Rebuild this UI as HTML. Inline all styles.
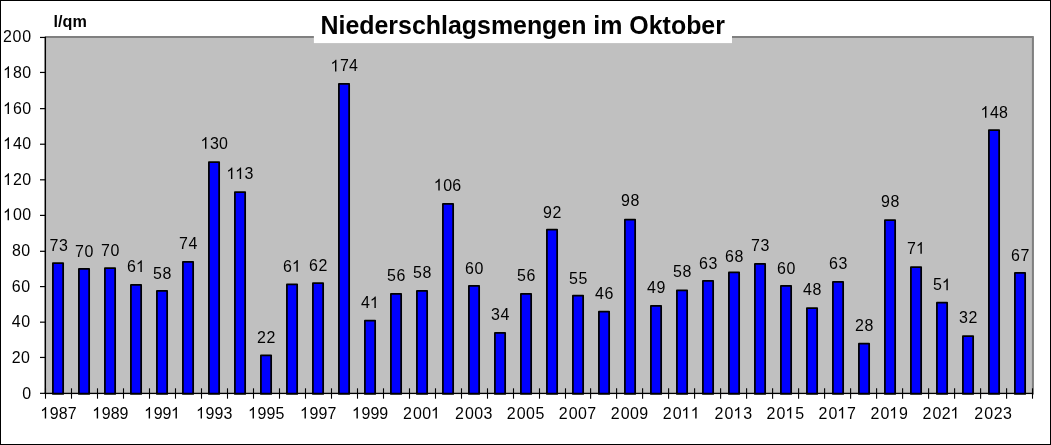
<!DOCTYPE html>
<html><head><meta charset="utf-8"><title>Niederschlagsmengen im Oktober</title>
<style>html,body{margin:0;padding:0;background:#fff;}body{width:1051px;height:445px;overflow:hidden;}svg{display:block;font-family:"Liberation Sans",sans-serif;font-size:17px;fill:#000;}</style></head><body>
<svg width="1051" height="445" viewBox="0 0 1051 445">
<defs><path id="one" d="M763 0H583V1147Q518 1085 412.5 1023T223 930V1104Q374 1175 487 1276T647 1472H763Z"/></defs>
<rect x="0" y="0" width="1051" height="445" fill="#ffffff"/>
<rect x="45.3" y="36" width="988.6" height="358.3" fill="#c0c0c0"/>
<path d="M45.3 37H1032.9V394.4" fill="none" stroke="#808080" stroke-width="2" stroke-linejoin="round"/>
<rect x="313.9" y="6" width="418.1" height="37.1" fill="#ffffff"/>
<g fill="#0000ff" stroke="#000" stroke-width="1.75" stroke-linejoin="round">
<rect x="52.90" y="263.03" width="10.25" height="130.87"/>
<rect x="78.90" y="268.90" width="10.25" height="125.00"/>
<rect x="104.90" y="268.19" width="10.25" height="125.71"/>
<rect x="130.90" y="284.92" width="10.25" height="108.98"/>
<rect x="156.90" y="290.97" width="10.25" height="102.93"/>
<rect x="182.90" y="261.78" width="10.25" height="132.12"/>
<rect x="208.90" y="162.10" width="10.25" height="231.80"/>
<rect x="234.90" y="192.00" width="10.25" height="201.90"/>
<rect x="260.90" y="355.32" width="10.25" height="38.58"/>
<rect x="286.90" y="284.39" width="10.25" height="109.51"/>
<rect x="312.90" y="283.14" width="10.25" height="110.76"/>
<rect x="338.90" y="83.78" width="10.25" height="310.12"/>
<rect x="364.90" y="320.52" width="10.25" height="73.38"/>
<rect x="390.90" y="293.82" width="10.25" height="100.08"/>
<rect x="416.90" y="290.97" width="10.25" height="102.93"/>
<rect x="442.90" y="203.93" width="10.25" height="189.97"/>
<rect x="468.90" y="285.81" width="10.25" height="108.09"/>
<rect x="494.90" y="332.98" width="10.25" height="60.92"/>
<rect x="520.90" y="293.82" width="10.25" height="100.08"/>
<rect x="546.90" y="229.74" width="10.25" height="164.16"/>
<rect x="572.90" y="295.60" width="10.25" height="98.30"/>
<rect x="598.90" y="311.62" width="10.25" height="82.28"/>
<rect x="624.90" y="219.59" width="10.25" height="174.31"/>
<rect x="650.90" y="305.75" width="10.25" height="88.15"/>
<rect x="676.90" y="290.26" width="10.25" height="103.64"/>
<rect x="702.90" y="280.83" width="10.25" height="113.07"/>
<rect x="728.90" y="272.46" width="10.25" height="121.44"/>
<rect x="754.90" y="263.92" width="10.25" height="129.98"/>
<rect x="780.90" y="285.81" width="10.25" height="108.09"/>
<rect x="806.90" y="308.06" width="10.25" height="85.84"/>
<rect x="832.90" y="281.89" width="10.25" height="112.01"/>
<rect x="858.90" y="343.66" width="10.25" height="50.24"/>
<rect x="884.90" y="220.13" width="10.25" height="173.77"/>
<rect x="910.90" y="267.12" width="10.25" height="126.78"/>
<rect x="936.90" y="302.72" width="10.25" height="91.18"/>
<rect x="962.90" y="336.01" width="10.25" height="57.89"/>
<rect x="988.90" y="130.06" width="10.25" height="263.84"/>
<rect x="1014.90" y="272.99" width="10.25" height="120.91"/>
</g>
<g stroke="#000" stroke-width="1.1">
<line x1="45.3" y1="36.8" x2="45.3" y2="394" stroke-width="1.5"/>
<line x1="44.6" y1="393.4" x2="1033.1" y2="393.4" stroke-width="1.3"/>
<line x1="40" y1="393.35" x2="45.5" y2="393.35" stroke-width="1.2"/>
<line x1="40" y1="357.45" x2="45.5" y2="357.45" stroke-width="1.2"/>
<line x1="40" y1="322.17" x2="45.5" y2="322.17" stroke-width="1.2"/>
<line x1="40" y1="286.58" x2="45.5" y2="286.58" stroke-width="1.2"/>
<line x1="40" y1="251.30" x2="45.5" y2="251.30" stroke-width="1.2"/>
<line x1="40" y1="215.40" x2="45.5" y2="215.40" stroke-width="1.2"/>
<line x1="40" y1="179.81" x2="45.5" y2="179.81" stroke-width="1.2"/>
<line x1="40" y1="144.22" x2="45.5" y2="144.22" stroke-width="1.2"/>
<line x1="40" y1="108.63" x2="45.5" y2="108.63" stroke-width="1.2"/>
<line x1="40" y1="72.45" x2="45.5" y2="72.45" stroke-width="1.2"/>
<line x1="40" y1="37.45" x2="45.5" y2="37.45" stroke-width="1.2"/>
<line x1="45.5" y1="388.3" x2="45.5" y2="398.7"/>
<line x1="71.5" y1="388.3" x2="71.5" y2="398.7"/>
<line x1="97.5" y1="388.3" x2="97.5" y2="398.7"/>
<line x1="123.5" y1="388.3" x2="123.5" y2="398.7"/>
<line x1="149.5" y1="388.3" x2="149.5" y2="398.7"/>
<line x1="175.5" y1="388.3" x2="175.5" y2="398.7"/>
<line x1="201.5" y1="388.3" x2="201.5" y2="398.7"/>
<line x1="227.5" y1="388.3" x2="227.5" y2="398.7"/>
<line x1="253.5" y1="388.3" x2="253.5" y2="398.7"/>
<line x1="279.5" y1="388.3" x2="279.5" y2="398.7"/>
<line x1="305.5" y1="388.3" x2="305.5" y2="398.7"/>
<line x1="331.5" y1="388.3" x2="331.5" y2="398.7"/>
<line x1="357.5" y1="388.3" x2="357.5" y2="398.7"/>
<line x1="383.5" y1="388.3" x2="383.5" y2="398.7"/>
<line x1="409.5" y1="388.3" x2="409.5" y2="398.7"/>
<line x1="435.5" y1="388.3" x2="435.5" y2="398.7"/>
<line x1="461.5" y1="388.3" x2="461.5" y2="398.7"/>
<line x1="487.5" y1="388.3" x2="487.5" y2="398.7"/>
<line x1="513.5" y1="388.3" x2="513.5" y2="398.7"/>
<line x1="539.5" y1="388.3" x2="539.5" y2="398.7"/>
<line x1="565.5" y1="388.3" x2="565.5" y2="398.7"/>
<line x1="590.6" y1="388.3" x2="590.6" y2="398.7"/>
<line x1="616.6" y1="388.3" x2="616.6" y2="398.7"/>
<line x1="642.6" y1="388.3" x2="642.6" y2="398.7"/>
<line x1="668.6" y1="388.3" x2="668.6" y2="398.7"/>
<line x1="694.6" y1="388.3" x2="694.6" y2="398.7"/>
<line x1="720.6" y1="388.3" x2="720.6" y2="398.7"/>
<line x1="746.6" y1="388.3" x2="746.6" y2="398.7"/>
<line x1="772.6" y1="388.3" x2="772.6" y2="398.7"/>
<line x1="798.6" y1="388.3" x2="798.6" y2="398.7"/>
<line x1="824.6" y1="388.3" x2="824.6" y2="398.7"/>
<line x1="850.6" y1="388.3" x2="850.6" y2="398.7"/>
<line x1="876.6" y1="388.3" x2="876.6" y2="398.7"/>
<line x1="902.6" y1="388.3" x2="902.6" y2="398.7"/>
<line x1="928.6" y1="388.3" x2="928.6" y2="398.7"/>
<line x1="954.6" y1="388.3" x2="954.6" y2="398.7"/>
<line x1="980.6" y1="388.3" x2="980.6" y2="398.7"/>
<line x1="1006.6" y1="388.3" x2="1006.6" y2="398.7"/>
<line x1="1032.5" y1="388.3" x2="1032.5" y2="398.7"/>
</g>
<g opacity="0.999">
<text transform="translate(22.29,398.70) scale(0.94,1)" letter-spacing="0.47">0</text>
<text transform="translate(11.76,362.90) scale(0.94,1)" letter-spacing="0.47">20</text>
<text transform="translate(11.86,327.40) scale(0.94,1)" letter-spacing="0.47">40</text>
<text transform="translate(11.86,291.70) scale(0.94,1)" letter-spacing="0.47">60</text>
<text transform="translate(11.96,255.50) scale(0.94,1)" letter-spacing="0.47">80</text>
<use href="#one" transform="translate(3.03,220.30) scale(0.00780,-0.00795)"/><text transform="translate(12.96,220.30) scale(0.94,1)" letter-spacing="0.47">00</text>
<use href="#one" transform="translate(3.03,185.00) scale(0.00780,-0.00795)"/><text transform="translate(12.96,185.00) scale(0.94,1)" letter-spacing="0.47">20</text>
<use href="#one" transform="translate(3.03,149.00) scale(0.00780,-0.00795)"/><text transform="translate(12.96,149.00) scale(0.94,1)" letter-spacing="0.47">40</text>
<use href="#one" transform="translate(3.03,113.90) scale(0.00780,-0.00795)"/><text transform="translate(12.96,113.90) scale(0.94,1)" letter-spacing="0.47">60</text>
<use href="#one" transform="translate(3.03,77.90) scale(0.00780,-0.00795)"/><text transform="translate(12.96,77.90) scale(0.94,1)" letter-spacing="0.47">80</text>
<text transform="translate(2.96,41.90) scale(0.94,1)" letter-spacing="0.76">200</text>
<use href="#one" transform="translate(40.22,418.60) scale(0.00780,-0.00795)"/><text transform="translate(49.77,418.60) scale(0.94,1)" letter-spacing="0.07">987</text>
<use href="#one" transform="translate(92.17,418.60) scale(0.00780,-0.00795)"/><text transform="translate(101.72,418.60) scale(0.94,1)" letter-spacing="0.07">989</text>
<use href="#one" transform="translate(144.11,418.60) scale(0.00780,-0.00795)"/><text transform="translate(153.66,418.60) scale(0.94,1)" letter-spacing="0.07">99</text><use href="#one" transform="translate(170.96,418.60) scale(0.00780,-0.00795)"/>
<use href="#one" transform="translate(196.06,418.60) scale(0.00780,-0.00795)"/><text transform="translate(205.61,418.60) scale(0.94,1)" letter-spacing="0.07">993</text>
<use href="#one" transform="translate(248.01,418.60) scale(0.00780,-0.00795)"/><text transform="translate(257.56,418.60) scale(0.94,1)" letter-spacing="0.07">995</text>
<use href="#one" transform="translate(299.96,418.60) scale(0.00780,-0.00795)"/><text transform="translate(309.51,418.60) scale(0.94,1)" letter-spacing="0.07">997</text>
<use href="#one" transform="translate(351.91,418.60) scale(0.00780,-0.00795)"/><text transform="translate(361.46,418.60) scale(0.94,1)" letter-spacing="0.07">999</text>
<text transform="translate(402.93,418.60) scale(0.94,1)" letter-spacing="0.44">2</text><text transform="translate(412.93,418.60) scale(0.94,1)" letter-spacing="0.44">00</text><use href="#one" transform="translate(430.93,418.60) scale(0.00780,-0.00795)"/>
<text transform="translate(454.88,418.60) scale(0.94,1)" letter-spacing="0.44">2</text><text transform="translate(464.88,418.60) scale(0.94,1)" letter-spacing="0.44">003</text>
<text transform="translate(506.83,418.60) scale(0.94,1)" letter-spacing="0.44">2</text><text transform="translate(516.83,418.60) scale(0.94,1)" letter-spacing="0.44">005</text>
<text transform="translate(558.77,418.60) scale(0.94,1)" letter-spacing="0.44">2</text><text transform="translate(568.77,418.60) scale(0.94,1)" letter-spacing="0.44">007</text>
<text transform="translate(610.72,418.60) scale(0.94,1)" letter-spacing="0.44">2</text><text transform="translate(620.72,418.60) scale(0.94,1)" letter-spacing="0.44">009</text>
<text transform="translate(662.67,418.60) scale(0.94,1)" letter-spacing="0.44">2</text><text transform="translate(672.67,418.60) scale(0.94,1)" letter-spacing="0.44">0</text><use href="#one" transform="translate(681.37,418.60) scale(0.00780,-0.00795)"/><use href="#one" transform="translate(690.67,418.60) scale(0.00780,-0.00795)"/>
<text transform="translate(714.62,418.60) scale(0.94,1)" letter-spacing="0.44">2</text><text transform="translate(724.62,418.60) scale(0.94,1)" letter-spacing="0.44">0</text><use href="#one" transform="translate(733.32,418.60) scale(0.00780,-0.00795)"/><text transform="translate(743.22,418.60) scale(0.94,1)" letter-spacing="0.44">3</text>
<text transform="translate(766.57,418.60) scale(0.94,1)" letter-spacing="0.44">2</text><text transform="translate(776.57,418.60) scale(0.94,1)" letter-spacing="0.44">0</text><use href="#one" transform="translate(785.27,418.60) scale(0.00780,-0.00795)"/><text transform="translate(795.17,418.60) scale(0.94,1)" letter-spacing="0.44">5</text>
<text transform="translate(818.51,418.60) scale(0.94,1)" letter-spacing="0.44">2</text><text transform="translate(828.51,418.60) scale(0.94,1)" letter-spacing="0.44">0</text><use href="#one" transform="translate(837.21,418.60) scale(0.00780,-0.00795)"/><text transform="translate(847.11,418.60) scale(0.94,1)" letter-spacing="0.44">7</text>
<text transform="translate(870.46,418.60) scale(0.94,1)" letter-spacing="0.44">2</text><text transform="translate(880.46,418.60) scale(0.94,1)" letter-spacing="0.44">0</text><use href="#one" transform="translate(889.16,418.60) scale(0.00780,-0.00795)"/><text transform="translate(899.06,418.60) scale(0.94,1)" letter-spacing="0.44">9</text>
<text transform="translate(922.41,418.60) scale(0.94,1)" letter-spacing="0.44">2</text><text transform="translate(932.41,418.60) scale(0.94,1)" letter-spacing="0.44">02</text><use href="#one" transform="translate(950.41,418.60) scale(0.00780,-0.00795)"/>
<text transform="translate(974.36,418.60) scale(0.94,1)" letter-spacing="0.44">2</text><text transform="translate(984.36,418.60) scale(0.94,1)" letter-spacing="0.44">023</text>
<text transform="translate(49.56,250.63) scale(0.94,1)" letter-spacing="0.55">73</text>
<text transform="translate(75.06,256.50) scale(0.94,1)" letter-spacing="0.55">70</text>
<text transform="translate(101.06,255.79) scale(0.94,1)" letter-spacing="0.55">70</text>
<text transform="translate(127.06,271.92) scale(0.94,1)" letter-spacing="0.55">6</text><use href="#one" transform="translate(135.86,271.92) scale(0.00780,-0.00795)"/>
<text transform="translate(153.06,278.57) scale(0.94,1)" letter-spacing="0.55">58</text>
<text transform="translate(179.06,249.38) scale(0.94,1)" letter-spacing="0.55">74</text>
<use href="#one" transform="translate(200.46,148.70) scale(0.00780,-0.00795)"/><text transform="translate(210.06,148.70) scale(0.94,1)" letter-spacing="0.12">30</text>
<use href="#one" transform="translate(226.41,179.10) scale(0.00780,-0.00795)"/><use href="#one" transform="translate(235.16,179.10) scale(0.00780,-0.00795)"/><text transform="translate(244.51,179.10) scale(0.94,1)" letter-spacing="-0.15">3</text>
<text transform="translate(257.06,342.52) scale(0.94,1)" letter-spacing="0.55">22</text>
<text transform="translate(283.06,271.69) scale(0.94,1)" letter-spacing="0.55">6</text><use href="#one" transform="translate(291.86,271.69) scale(0.00780,-0.00795)"/>
<text transform="translate(309.06,270.74) scale(0.94,1)" letter-spacing="0.55">62</text>
<use href="#one" transform="translate(330.46,71.38) scale(0.00780,-0.00795)"/><text transform="translate(340.06,71.38) scale(0.94,1)" letter-spacing="0.12">74</text>
<text transform="translate(361.06,308.12) scale(0.94,1)" letter-spacing="0.55">4</text><use href="#one" transform="translate(369.86,308.12) scale(0.00780,-0.00795)"/>
<text transform="translate(387.06,281.42) scale(0.94,1)" letter-spacing="0.55">56</text>
<text transform="translate(413.06,277.87) scale(0.94,1)" letter-spacing="0.55">58</text>
<use href="#one" transform="translate(433.76,190.53) scale(0.00780,-0.00795)"/><text transform="translate(443.36,190.53) scale(0.94,1)" letter-spacing="0.12">06</text>
<text transform="translate(465.06,274.11) scale(0.94,1)" letter-spacing="0.55">60</text>
<text transform="translate(491.06,319.88) scale(0.94,1)" letter-spacing="0.55">34</text>
<text transform="translate(517.06,281.42) scale(0.94,1)" letter-spacing="0.55">56</text>
<text transform="translate(543.06,217.84) scale(0.94,1)" letter-spacing="0.55">92</text>
<text transform="translate(569.06,284.00) scale(0.94,1)" letter-spacing="0.55">55</text>
<text transform="translate(595.06,299.22) scale(0.94,1)" letter-spacing="0.55">46</text>
<text transform="translate(621.06,206.19) scale(0.94,1)" letter-spacing="0.55">98</text>
<text transform="translate(647.06,293.35) scale(0.94,1)" letter-spacing="0.55">49</text>
<text transform="translate(673.06,276.86) scale(0.94,1)" letter-spacing="0.55">58</text>
<text transform="translate(699.06,268.93) scale(0.94,1)" letter-spacing="0.55">63</text>
<text transform="translate(725.06,261.66) scale(0.94,1)" letter-spacing="0.55">68</text>
<text transform="translate(751.06,251.22) scale(0.94,1)" letter-spacing="0.55">73</text>
<text transform="translate(777.06,274.31) scale(0.94,1)" letter-spacing="0.55">60</text>
<text transform="translate(803.06,295.06) scale(0.94,1)" letter-spacing="0.55">48</text>
<text transform="translate(829.06,268.99) scale(0.94,1)" letter-spacing="0.55">63</text>
<text transform="translate(855.06,331.26) scale(0.94,1)" letter-spacing="0.55">28</text>
<text transform="translate(881.06,206.63) scale(0.94,1)" letter-spacing="0.55">98</text>
<text transform="translate(907.06,253.72) scale(0.94,1)" letter-spacing="0.55">7</text><use href="#one" transform="translate(915.86,253.72) scale(0.00780,-0.00795)"/>
<text transform="translate(933.06,290.32) scale(0.94,1)" letter-spacing="0.55">5</text><use href="#one" transform="translate(941.86,290.32) scale(0.00780,-0.00795)"/>
<text transform="translate(959.06,323.11) scale(0.94,1)" letter-spacing="0.55">32</text>
<use href="#one" transform="translate(980.46,117.66) scale(0.00780,-0.00795)"/><text transform="translate(990.06,117.66) scale(0.94,1)" letter-spacing="0.12">48</text>
<text transform="translate(1011.06,260.59) scale(0.94,1)" letter-spacing="0.55">67</text>
<text transform="translate(53.6,26.6) scale(0.952,1)" font-weight="bold">l/qm</text>
<text transform="translate(320.5,33.7) scale(0.9975,1)" font-size="25" font-weight="bold">Niederschlagsmengen im Oktober</text>
</g>
<rect x="0.5" y="0.5" width="1050" height="444" fill="none" stroke="#000" stroke-width="1"/>
</svg></body></html>
